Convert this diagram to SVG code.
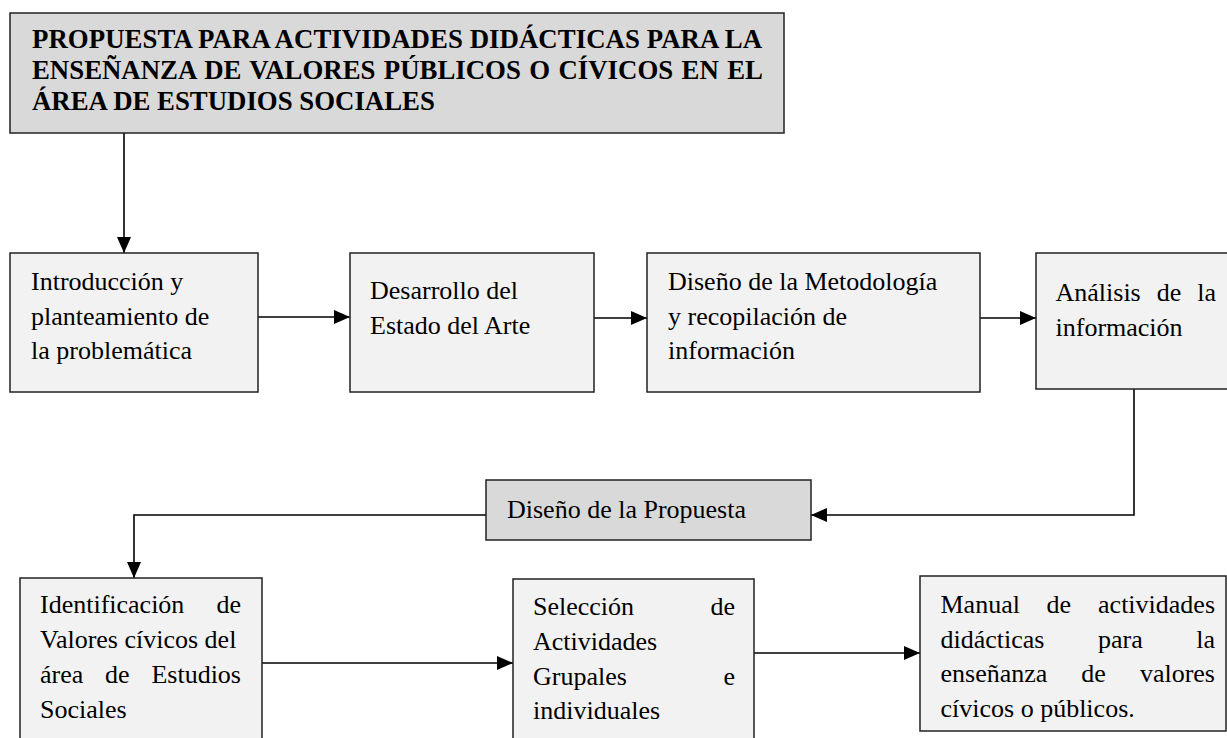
<svg xmlns="http://www.w3.org/2000/svg" width="1227" height="738" viewBox="0 0 1227 738">
<style>
.box{fill:#f2f2f2;stroke:#222;stroke-width:1.5}
.dark{fill:#d9d9d9;stroke:#222;stroke-width:1.5}
.t{font-family:"Liberation Serif","Times New Roman",serif;font-size:26px;fill:#000}
.tb{font-family:"Liberation Serif","Times New Roman",serif;font-size:26.8px;font-weight:bold;fill:#000}
.c{fill:none;stroke:#000;stroke-width:1.6}
</style>
<defs>
<marker id="ah" markerUnits="userSpaceOnUse" markerWidth="16" markerHeight="14" refX="16" refY="7" orient="auto">
<path d="M0,0 L16,7 L0,14 Z" fill="#000"/>
</marker>
</defs>
<rect width="1227" height="738" fill="#fff"/>

<g id="connectors">
<path class="c" d="M124 133 V253" marker-end="url(#ah)"/>
<path class="c" d="M258 317 H350" marker-end="url(#ah)"/>
<path class="c" d="M594 318 H647" marker-end="url(#ah)"/>
<path class="c" d="M980 318 H1036" marker-end="url(#ah)"/>
<path class="c" d="M1134 389 V515 H811" marker-end="url(#ah)"/>
<path class="c" d="M486 515 H134 V578" marker-end="url(#ah)"/>
<path class="c" d="M262 663 H513" marker-end="url(#ah)"/>
<path class="c" d="M754 653 H920" marker-end="url(#ah)"/>
</g>

<g id="title">
<rect class="dark" x="10" y="13" width="774" height="120"/>
<text class="tb" x="32" y="48" textLength="730" lengthAdjust="spacing">PROPUESTA PARA ACTIVIDADES DIDÁCTICAS PARA LA</text>
<text class="tb" x="32" y="79" word-spacing="1.7">ENSEÑANZA DE VALORES PÚBLICOS O CÍVICOS EN EL</text>
<text class="tb" x="32" y="110">ÁREA DE ESTUDIOS SOCIALES</text>
</g>

<g id="n1">
<rect class="box" x="10" y="253" width="248" height="139"/>
<text class="t" x="31" y="290">Introducción y</text>
<text class="t" x="31" y="324.5">planteamiento de</text>
<text class="t" x="31" y="359">la problemática</text>
</g>

<g id="n2">
<rect class="box" x="350" y="253" width="244" height="139"/>
<text class="t" x="370" y="299">Desarrollo del</text>
<text class="t" x="370" y="334">Estado del Arte</text>
</g>

<g id="n3">
<rect class="box" x="647" y="253" width="333" height="139"/>
<text class="t" x="668" y="290">Diseño de la Metodología</text>
<text class="t" x="668" y="324.5">y recopilación de</text>
<text class="t" x="668" y="359">información</text>
</g>

<g id="n4">
<rect class="box" x="1036" y="253" width="200" height="136"/>
<text class="t" y="301"><tspan x="1055.5">Análisis</tspan><tspan x="1156.7">de</tspan><tspan x="1216" text-anchor="end">la</tspan></text>
<text class="t" x="1055.5" y="336">información</text>
</g>

<g id="n5">
<rect class="dark" x="486" y="480" width="325" height="60"/>
<text class="t" x="507" y="518">Diseño de la Propuesta</text>
</g>

<g id="n6">
<rect class="box" x="20" y="578" width="242" height="170"/>
<text class="t" y="613"><tspan x="40">Identificación</tspan><tspan x="241" text-anchor="end">de</tspan></text>
<text class="t" x="40" y="648">Valores cívicos del</text>
<text class="t" y="683"><tspan x="40">área</tspan><tspan x="105">de</tspan><tspan x="241" text-anchor="end">Estudios</tspan></text>
<text class="t" x="40" y="718">Sociales</text>
</g>

<g id="n7">
<rect class="box" x="513" y="579" width="241" height="170"/>
<text class="t" y="615"><tspan x="533">Selección</tspan><tspan x="735" text-anchor="end">de</tspan></text>
<text class="t" x="533" y="650">Actividades</text>
<text class="t" y="685"><tspan x="533">Grupales</tspan><tspan x="735" text-anchor="end">e</tspan></text>
<text class="t" x="533" y="719">individuales</text>
</g>

<g id="n8">
<rect class="box" x="920" y="576" width="306" height="155"/>
<text class="t" y="613"><tspan x="940.5">Manual</tspan><tspan x="1046.6">de</tspan><tspan x="1215" text-anchor="end">actividades</tspan></text>
<text class="t" y="648"><tspan x="940.5">didácticas</tspan><tspan x="1098">para</tspan><tspan x="1215" text-anchor="end">la</tspan></text>
<text class="t" y="682"><tspan x="940.5">enseñanza</tspan><tspan x="1081.3">de</tspan><tspan x="1215" text-anchor="end">valores</tspan></text>
<text class="t" x="940.5" y="717">cívicos o públicos.</text>
</g>
</svg>
